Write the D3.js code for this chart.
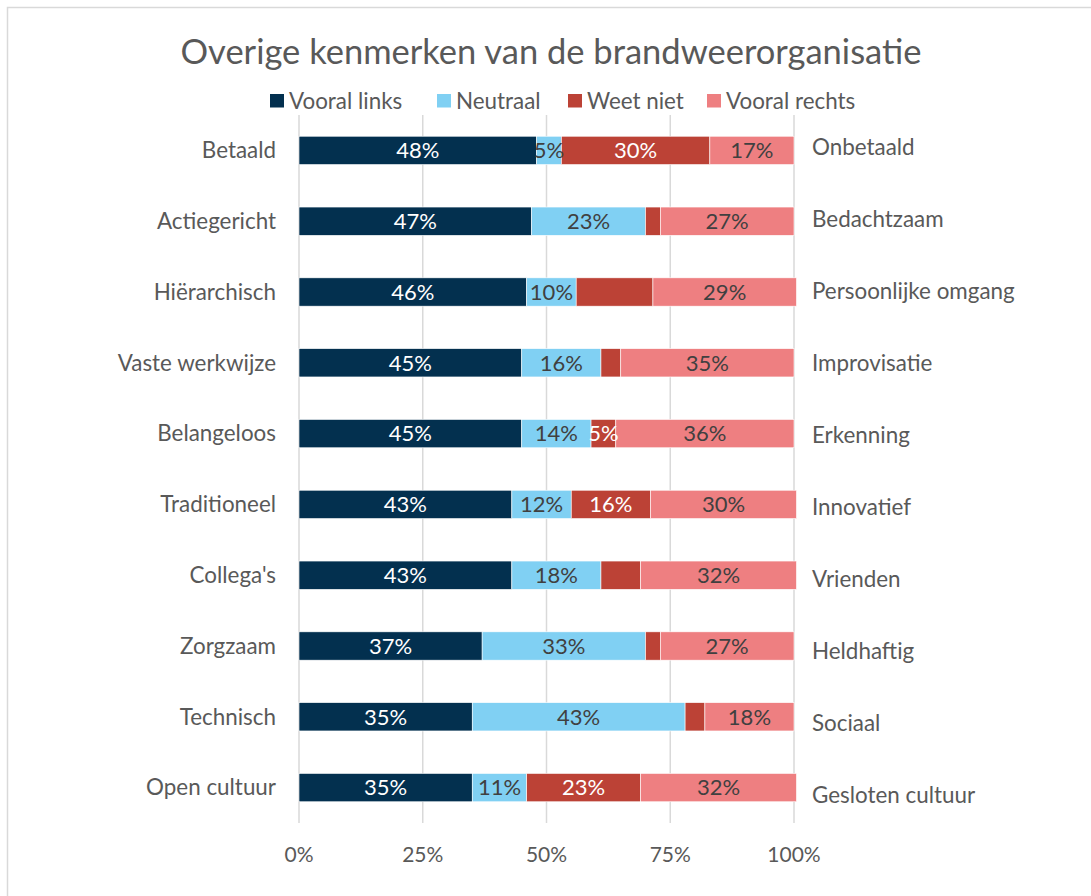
<!DOCTYPE html>
<html>
<head>
<meta charset="utf-8">
<script src="https://cdn.jsdelivr.net/npm/d3@7"></script>
<style>
  html, body { margin: 0; padding: 0; background: #fff; }
  svg { display: block; font-family: Lato, "Open Sans", sans-serif; }
</style>
</head>
<body>
<svg id="chart" width="1091" height="896"></svg>
<script>
// left / right poles of each characteristic
const leftLabels = ['Betaald', 'Actiegericht', 'Hiërarchisch', 'Vaste werkwijze', 'Belangeloos',
  'Traditioneel', "Collega's", 'Zorgzaam', 'Technisch', 'Open cultuur'];
const rightLabels = ['Onbetaald', 'Bedachtzaam', 'Persoonlijke omgang', 'Improvisatie', 'Erkenning',
  'Innovatief', 'Vrienden', 'Heldhaftig', 'Sociaal', 'Gesloten cultuur'];

const seriesNames = ['Vooral links', 'Neutraal', 'Weet niet', 'Vooral rechts'];
const vooralLinks  = [48, 47, 46, 45, 45, 43, 43, 37, 35, 35];
const neutraal     = [5, 23, 10, 16, 14, 12, 18, 33, 43, 11];
const weetNiet     = [30, 3, 15.5, 4, 5, 16, 8, 3, 4, 23];
const vooralRechts = [17, 27, 29, 35, 36, 29.5, 31.5, 27, 18, 31.5];
// which data labels are shown in the original (small ones were left out)
const showWeetNiet = [true, false, false, false, true, true, false, false, false, true];

const xTicks = [0, 25, 50, 75, 100];

const colors = ['#03304f', '#80d0f3', '#bc4236', '#ee7f81'];
const labelColors = ['#ffffff', '#404040', '#ffffff', '#404040'];
const textGray = '#595959';

const svg = d3.select('#chart');

// outer chart border (only left/top visible in the frame)
svg.append('rect')
  .attr('x', 7.5).attr('y', 7.5)
  .attr('width', 1100).attr('height', 900)
  .attr('fill', 'none')
  .attr('stroke', '#d9d9d9')
  .attr('stroke-width', 1.5);

svg.append('text')
  .attr('x', 551).attr('y', 64)
  .attr('text-anchor', 'middle')
  .attr('fill', textGray)
  .attr('font-size', 34.5)
  .text('Overige kenmerken van de brandweerorganisatie');

const x = d3.scaleLinear().domain([0, 100]).range([299, 794]);
const y = d3.scaleBand().domain(leftLabels).range([115, 823]).paddingInner(0.6).paddingOuter(0.3);
const yRight = d3.scalePoint().domain(rightLabels).range([147, 795]);

// gridlines
svg.append('g')
  .selectAll('line')
  .data(xTicks)
  .join('line')
  .attr('x1', d => x(d)).attr('x2', d => x(d))
  .attr('y1', 115).attr('y2', 823)
  .attr('stroke', '#d9d9d9')
  .attr('stroke-width', 1.5);

// stack the four series per row
const rows = leftLabels.map((name, i) => ({
  name,
  vals: [vooralLinks[i], neutraal[i], weetNiet[i], vooralRechts[i]],
  show: [true, true, showWeetNiet[i], true]
}));

const segs = [];
rows.forEach(r => {
  let acc = 0;
  r.vals.forEach((v, k) => {
    segs.push({ name: r.name, k, v, x0: acc, x1: acc + v, show: r.show[k] });
    acc += v;
  });
});

svg.append('g')
  .selectAll('rect')
  .data(segs)
  .join('rect')
  .attr('x', d => x(d.x0))
  .attr('y', d => y(d.name))
  .attr('width', d => x(d.x1) - x(d.x0))
  .attr('height', y.bandwidth())
  .attr('fill', d => colors[d.k])
  .attr('stroke', '#ffffff')
  .attr('stroke-width', 0.6);

svg.append('g')
  .selectAll('text')
  .data(segs.filter(d => d.show))
  .join('text')
  .attr('x', d => x((d.x0 + d.x1) / 2))
  .attr('y', d => y(d.name) + y.bandwidth() / 2)
  .attr('dy', '0.35em')
  .attr('text-anchor', 'middle')
  .attr('font-size', 22)
  .attr('fill', d => labelColors[d.k])
  .text(d => Math.round(d.v) + '%');

// category labels
svg.append('g')
  .selectAll('text')
  .data(leftLabels)
  .join('text')
  .attr('x', 276)
  .attr('y', d => y(d) + y.bandwidth() / 2)
  .attr('dy', '0.35em')
  .attr('text-anchor', 'end')
  .attr('font-size', 22.4)
  .attr('fill', textGray)
  .text(d => d);

svg.append('g')
  .selectAll('text')
  .data(rightLabels)
  .join('text')
  .attr('x', 812)
  .attr('y', d => yRight(d))
  .attr('dy', '0.35em')
  .attr('font-size', 22.4)
  .attr('fill', textGray)
  .text(d => d);

// x axis tick labels
svg.append('g')
  .selectAll('text')
  .data(xTicks)
  .join('text')
  .attr('x', d => x(d))
  .attr('y', 855)
  .attr('dy', '0.35em')
  .attr('text-anchor', 'middle')
  .attr('font-size', 21)
  .attr('fill', textGray)
  .text(d => d + '%');

// legend
const legendX = [270, 437, 568, 707];
const legend = svg.append('g')
  .selectAll('g')
  .data(seriesNames)
  .join('g')
  .attr('transform', (d, i) => `translate(${legendX[i]},101)`);
legend.append('rect')
  .attr('x', 0).attr('y', -7)
  .attr('width', 14).attr('height', 13.5)
  .attr('fill', (d, i) => colors[i]);
legend.append('text')
  .attr('x', 19)
  .attr('dy', '0.35em')
  .attr('font-size', 22.4)
  .attr('fill', textGray)
  .text(d => d);
</script>
</body>
</html>
